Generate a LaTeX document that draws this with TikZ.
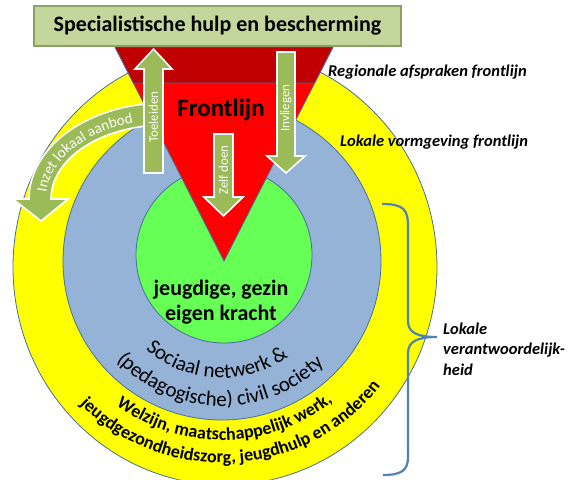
\documentclass[tikz,border=0pt]{standalone}
\usepackage{fontspec}
\setmainfont{Carlito}
\usetikzlibrary{decorations.text}
\definecolor{cyel}{RGB}{255,255,0}
\definecolor{cblue}{RGB}{149,179,215}
\definecolor{cgreen}{RGB}{102,255,85}
\definecolor{cred}{RGB}{255,0,0}
\definecolor{cdred}{RGB}{192,0,0}
\definecolor{colive}{RGB}{155,187,89}
\definecolor{cline}{RGB}{70,110,160}
\definecolor{cbox}{RGB}{195,214,155}
\definecolor{cboxline}{RGB}{140,160,100}
\definecolor{cbrace}{RGB}{79,129,189}
\begin{document}
\begin{tikzpicture}[x=1pt,y=-1pt,
  ring/.style={draw=cline, line width=0.8pt},
  arrowshape/.style={fill=colive, draw=white, line width=1.6pt, line join=miter},
  arrowtext/.style={text=white, font=\fontsize{13}{13}\selectfont, rotate=90, inner sep=0pt},
  sidetext/.style={font=\fontsize{16.5}{20.5}\selectfont\bfseries\itshape, inner sep=0pt, anchor=west, align=left},
  bigtext/.style={font=\fontsize{22}{25}\selectfont\bfseries, inner sep=0pt, align=center},
  arctext/.style={decorate, decoration={text along path, text align=center, text={#1}}},
]
\useasboundingbox (0,0) rectangle (577,479);
\clip (0,0) rectangle (577,479);

% rings
\draw[ring, fill=cyel] (225,267) ellipse [x radius=212, y radius=218];
\draw[ring, fill=cblue] (222,261) circle [radius=159];
\draw[ring, fill=cgreen] (224,255) circle [radius=88];

% frontline triangle
\draw[ring, fill=cred] (115,47) -- (333,47) -- (224,261) -- cycle;
\draw[ring, fill=cdred] (115,47) -- (333,47) -- (314.7,83) -- (133.3,83) -- cycle;

% curved arrow
\path[arrowshape] (165,199) ++(260.8:136 and 96)
  arc[start angle=260.8, end angle=180, x radius=136, y radius=96]
  -- (13,199) -- (41,221) -- (68,199) -- (51,199)
  arc[start angle=180, end angle=260.8, x radius=114, y radius=74] -- cycle;
\path[decorate, decoration={text along path, text align=center, text color=white,
  text={|\fontsize{15}{15}\selectfont|Inzet lokaal aanbod}}]
  (165,199) ++(178:119 and 79) arc[start angle=178, end angle=259, x radius=119, y radius=79];

% straight arrows
\path[arrowshape] (144,173) -- (144,69) -- (135,69) -- (153.5,49) -- (172,69) -- (163,69) -- (163,173) -- cycle;
\path[arrowshape] (277,52) -- (277,156) -- (267,156) -- (286,173) -- (305,156) -- (295,156) -- (295,52) -- cycle;
\path[arrowshape] (214,134) -- (214,197) -- (204,197) -- (223.5,216) -- (243,197) -- (233,197) -- (233,134) -- cycle;
\node[arrowtext] (toe) at (153.5,117) {Toeleiden};
\node[arrowtext] (inv) at (286,108) {Invliegen};
\node[arrowtext] (zelf) at (223.5,170) {Zelf doen};

% texts
\node[font=\fontsize{25}{25}\selectfont\bfseries, inner sep=0pt] (front) at (221,110) {Frontlijn};
\node[bigtext] (jeugd) at (221,302) {jeugdige, gezin\\eigen kracht};

\path[arctext={|\fontsize{21}{21}\selectfont|Sociaal netwerk {\&}}]
  (222,261) ++(153:117) arc[start angle=153, end angle=33, radius=117];
\path[arctext={|\fontsize{21}{21}\selectfont|(pedagogische) civil society}]
  (222,261) ++(151:145) arc[start angle=151, end angle=31, radius=145];
\path[arctext={|\fontsize{18}{18}\selectfont\bfseries|Welzijn, maatschappelijk werk,}]
  (222,261) ++(149:179) arc[start angle=149, end angle=29, radius=179];
\path[arctext={|\fontsize{18}{18}\selectfont\bfseries|jeugdgezondheidszorg, jeugdhulp en anderen}]
  (222,261) ++(146.5:202) arc[start angle=146.5, end angle=26.5, radius=202];

% top box
\node[draw=cboxline, fill=cbox, line width=1.2pt, minimum width=367, minimum height=40,
  inner sep=0pt, font=\fontsize{22}{22}\selectfont\bfseries] (spec) at (217.5,26)
  {Specialistische hulp en bescherming};

% side labels
\node[sidetext] (reg) at (328,72) {Regionale afspraken frontlijn};
\node[sidetext] (lok) at (340,142) {Lokale vormgeving frontlijn};
\node[sidetext] (ver) at (443,349) {Lokale\\verantwoordelijk-\\heid};

% brace
\draw[cbrace, line width=2.2pt] (382,204) .. controls (404,204) and (408,210) .. (408,226)
  -- (408,321) .. controls (408,333) and (418,337) .. (437,337)
  .. controls (418,337) and (408,341) .. (408,353)
  -- (408,457) .. controls (408,470) and (402,475) .. (383,475);
\end{tikzpicture}
\end{document}
